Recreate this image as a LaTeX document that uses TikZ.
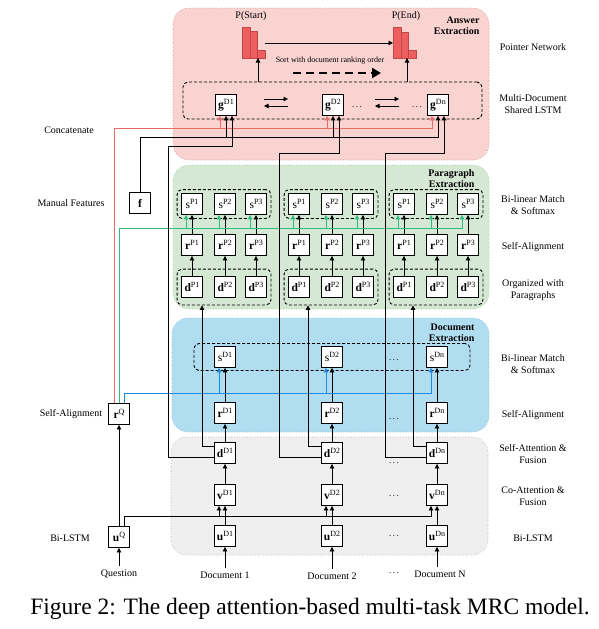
\documentclass[tikz,border=0pt]{standalone}
\usepackage{fontspec}
\setmainfont{Liberation Serif}
\usetikzlibrary{arrows.meta,fit,calc}
\definecolor{pinkfill}{HTML}{F8D3D0}
\definecolor{pinkdraw}{HTML}{D08080}
\definecolor{greenfill}{HTML}{D5E8D4}
\definecolor{greendraw}{HTML}{9CC39A}
\definecolor{bluefill}{HTML}{B1DDF0}
\definecolor{bluedraw}{HTML}{7FB5D0}
\definecolor{grayfill}{HTML}{EFEFEF}
\definecolor{graydraw}{HTML}{A0A0A0}
\definecolor{redc}{HTML}{EA6B66}
\definecolor{greenc}{HTML}{2DBE7E}
\definecolor{bluec}{HTML}{1E88E5}
\definecolor{barfill}{HTML}{EE5E5E}
\definecolor{bardraw}{HTML}{C04848}
\newcommand{\sq}[2]{#1{\fontsize{8}{8}\selectfont\raisebox{3.6pt}{#2}}}
\begin{document}
\begin{tikzpicture}[x=1pt,y=-1pt,
  box/.style={draw=black, fill=white, line width=0.9pt, minimum width=21pt, minimum height=21pt, inner sep=0pt, font=\fontsize{11.5}{11.5}\selectfont},
  arr/.style={-{Triangle[length=4.5pt,width=4.5pt]}, line width=0.9pt},
  rarr/.style={arr, draw=redc},
  garr/.style={arr, draw=greenc},
  barr/.style={arr, draw=bluec},
  lbl/.style={font=\fontsize{10}{11.5}\selectfont, align=center},
  ttl/.style={font=\bfseries\fontsize{10}{11}\selectfont, align=right, anchor=north east},
  dbox/.style={draw, line width=0.9pt, rounded corners=5pt, dash pattern=on 3pt off 2pt},
  panel/.style={rounded corners=16pt, dotted, line width=0.6pt},
  bar/.style={draw=bardraw, fill=barfill, line width=0.5pt, minimum width=7.5pt, inner sep=0pt, anchor=south west},
  dots/.style={font=\fontsize{9}{9}\selectfont}
]
\path[use as bounding box] (0,0) rectangle (599,629);

% panels
\draw[panel, fill=pinkfill, draw=pinkdraw] (173,8) rectangle (489,160);
\draw[panel, fill=greenfill, draw=greendraw] (173,165) rectangle (489,309);
\draw[panel, fill=bluefill, draw=bluedraw] (172,318) rectangle (489,432);
\draw[panel, fill=grayfill, draw=graydraw] (171,437) rectangle (488,555);

\node[ttl] (tAns) at (483,13) {Answer\\Extraction};
\node[ttl] (tPar) at (478,166) {Paragraph\\Extraction};
\node[ttl] (tDoc) at (478,320) {Document\\Extraction};

% bus levels
\coordinate (busR) at (0,128);
\coordinate (busF) at (0,137);
\coordinate (busG) at (0,228);
\coordinate (busB) at (0,393);
\coordinate (busU) at (0,516);
\coordinate (up1) at (202,0);
\coordinate (up2) at (308,0);
\coordinate (up3) at (413,0);
\coordinate (dg1) at (168,146);
\coordinate (dg2) at (279,153);
\coordinate (dg3) at (385,153);
\coordinate (hy) at (0,43);

% dashed group boxes
\node[dbox, minimum width=299pt, minimum height=37pt, inner sep=0pt] (gbox) at (332.5,100.5) {};
\node[dbox, minimum width=276pt, minimum height=27pt, inner sep=0pt] (sDbox) at (332,357) {};

% columns
\foreach \i/\x/\s in {1/225/D1,2/332/D2,3/437/Dn} {
  \node[box] (u\i) at (\x,536) {\sq{\textbf{u}}{\s}};
  \node[box] (v\i) at (\x,495) {\sq{\textbf{v}}{\s}};
  \node[box] (d\i) at (\x,453) {\sq{\textbf{d}}{\s}};
  \node[box] (r\i) at (\x,413) {\sq{\textbf{r}}{\s}};
  \node[box] (s\i) at (\x,357) {\sq{s}{\s}};
  \node[box] (g\i) at (\x+1,105) {\sq{\textbf{g}}{\s}};
  \coordinate (gL\i) at ([xshift=-6pt]g\i.south);
  \coordinate (gR\i) at ([xshift=6pt]g\i.south);
  \coordinate (sL\i) at ([xshift=-6pt]s\i.south);
  \coordinate (vL\i) at ([xshift=-6pt]v\i.south);
  \draw[arr] (u\i) -- (v\i);
  \draw[arr] (v\i) -- (d\i);
  \draw[arr] (d\i) -- (r\i);
  \draw[arr] (r\i) -- (s\i);
  \foreach \j/\dx in {1/-33,2/0,3/31} {
    \node[box] (dP\i\j) at (\x+\dx,287) {\sq{\textbf{d}}{P\j}};
    \node[box] (rP\i\j) at (\x+\dx,245) {\sq{\textbf{r}}{P\j}};
    \node[box] (sP\i\j) at (\x+\dx,204) {\sq{s}{P\j}};
    \coordinate (sPL\i\j) at ([xshift=-6pt]sP\i\j.south);
    \draw[arr] (dP\i\j) -- (rP\i\j);
    \draw[arr] (rP\i\j) -- (sP\i\j);
  }
  \node[dbox, fit=(sP\i1)(sP\i3), inner xsep=4pt, inner ysep=3.5pt] (sPg\i) {};
  \node[dbox, fit=(dP\i1)(dP\i3), inner xsep=4pt, inner ysep=7pt] (dPg\i) {};
}

% documents
\node[lbl] (doc1) at (225,575) {Document 1};
\node[lbl] (doc2) at (332,576) {Document 2};
\node[lbl] (doc3) at (440,574) {Document N};
\draw[arr] (doc1.north) -- (u1.south);
\draw[arr] (doc2.north) -- (u2.south);
\draw[arr] (doc3.north -| u3) -- (u3.south);

% dots
\node[dots] (dt1) at (394,573) {.\,.\,.};
\node[dots] (dt2) at (394,536) {.\,.\,.};
\node[dots] (dt3) at (394,496) {.\,.\,.};
\node[dots] (dt4) at (394,463) {.\,.\,.};
\node[dots] (dt5) at (394,419) {.\,.\,.};
\node[dots] (dt6) at (394,360) {.\,.\,.};
\node[dots] (dt7) at (357,107) {.\,.\,.};
\node[dots] (dt8) at (417,107) {.\,.\,.};

% question side
\node[box] (uQ) at (119,537) {\sq{\textbf{u}}{Q}};
\node[box] (rQ) at (119,414) {\sq{\textbf{r}}{Q}};
\node[box] (f) at (140,203) {\textbf{f}};
\node[lbl] (q) at (119,574) {Question};
\draw[arr] (q.north) -- (uQ.south);
\draw[arr] (uQ.north) -- (rQ.south);
\draw[arr] ([xshift=5pt]uQ.north) |- (vL3 |- busU) -- (vL3);
\draw[arr] (vL1 |- busU) -- (vL1);
\draw[arr] (vL2 |- busU) -- (vL2);

% red concatenation into g
\draw[rarr] ([xshift=-5pt]rQ.north) |- (gL3 |- busR) -- (gL3);
\draw[rarr] (gL1 |- busR) -- (gL1);
\draw[rarr] (gL2 |- busR) -- (gL2);
% manual features
\draw[arr] (f.north) |- (g3 |- busF) -- (g3.south);
\draw[arr] (g1 |- busF) -- (g1.south);
\draw[arr] (g2 |- busF) -- (g2.south);
% green into s^P
\draw[garr] (rQ.north) |- (sPL33 |- busG) -- (sPL33);
\foreach \k in {11,12,13,21,22,23,31,32} {
  \draw[garr] (sPL\k |- busG) -- (sPL\k);
}
% blue into s^D
\draw[barr] ([xshift=5pt]rQ.north) |- (sL3 |- busB) -- (sL3);
\draw[barr] (sL1 |- busB) -- (sL1);
\draw[barr] (sL2 |- busB) -- (sL2);

% d^D to paragraph groups
\draw[arr] ([yshift=7pt]d1.west) -| (up1 |- dPg1.south);
\draw[arr] ([yshift=7pt]d2.west) -| (up2 |- dPg2.south);
\draw[arr] ([yshift=7pt]d3.west) -| (up3 |- dPg3.south);
% d^D to g
\draw[arr] ([yshift=-4pt]d1.west) -| (dg1) -| (gR1);
\draw[arr] ([yshift=-4pt]d2.west) -| (dg2) -| (gR2);
\draw[arr] ([yshift=-4pt]d3.west) -| (dg3) -| (gR3);

% bidirectional LSTM arrows
\coordinate (la1) at (264,99); \coordinate (lb1) at (288,99);
\coordinate (la2) at (375,99); \coordinate (lb2) at (399,99);
\draw[arr] (la1) -- (lb1);
\draw[arr] ([yshift=-7pt]lb1) -- ([yshift=-7pt]la1);
\draw[arr] (la2) -- (lb2);
\draw[arr] ([yshift=-7pt]lb2) -- ([yshift=-7pt]la2);

% pointer network bars
\node[bar, minimum height=31pt] (bs1) at (242,58) {};
\node[bar, minimum height=27pt] (bs2) at (249.5,58) {};
\node[bar, minimum height=8pt] (bs3) at (257,58) {};
\node[bar, minimum height=31pt] (be1) at (393,58) {};
\node[bar, minimum height=26pt] (be2) at (400.5,58) {};
\node[bar, minimum height=8pt] (be3) at (408,58) {};
\node[lbl] (pstart) at (251,16) {P(Start)};
\node[lbl] (pend) at (406,16) {P(End)};
\coordinate (ps) at (258,58);
\coordinate (pe) at (407,58);
\draw[arr] (ps |- gbox.north) -- (ps);
\draw[arr] (pe |- gbox.north) -- (pe);
\draw[arr] (bs3.east |- hy) -- (be1.west |- hy);
\node[font=\fontsize{8}{9}\selectfont] (sorttxt) at (330,61) {Sort with document ranking order};
\coordinate (sortA) at (293,73);
\coordinate (sortB) at (381,73);
\draw[line width=2.6pt, dash pattern=on 8pt off 5pt, -{Triangle[length=9pt,width=10pt]}] (sortA) -- (sortB);

% left labels
\node[lbl] (lc) at (69,130) {Concatenate};
\node[lbl] (lm) at (71,203) {Manual Features};
\node[lbl] (ls) at (71,414) {Self-Alignment};
\node[lbl] (lb) at (70,538) {Bi-LSTM};

% right labels
\node[lbl] (r1) at (533,47) {Pointer Network};
\node[lbl] (r2) at (533,104) {Multi-Document\\Shared LSTM};
\node[lbl] (r3) at (533,205) {Bi-linear Match\\\& Softmax};
\node[lbl] (r4) at (533,247) {Self-Alignment};
\node[lbl] (r5) at (533,290) {Organized with\\Paragraphs};
\node[lbl] (r6) at (533,364) {Bi-linear Match\\\& Softmax};
\node[lbl] (r7) at (533,415) {Self-Alignment};
\node[lbl] (r8) at (533,454) {Self-Attention \&\\Fusion};
\node[lbl] (r9) at (533,496) {Co-Attention \&\\Fusion};
\node[lbl] (r10) at (533,538) {Bi-LSTM};

% caption
\node[font=\fontsize{23.5}{26}\selectfont] (cap) at (310,609) {Figure 2: The deep attention-based multi-task MRC model.};
\end{tikzpicture}
\end{document}
